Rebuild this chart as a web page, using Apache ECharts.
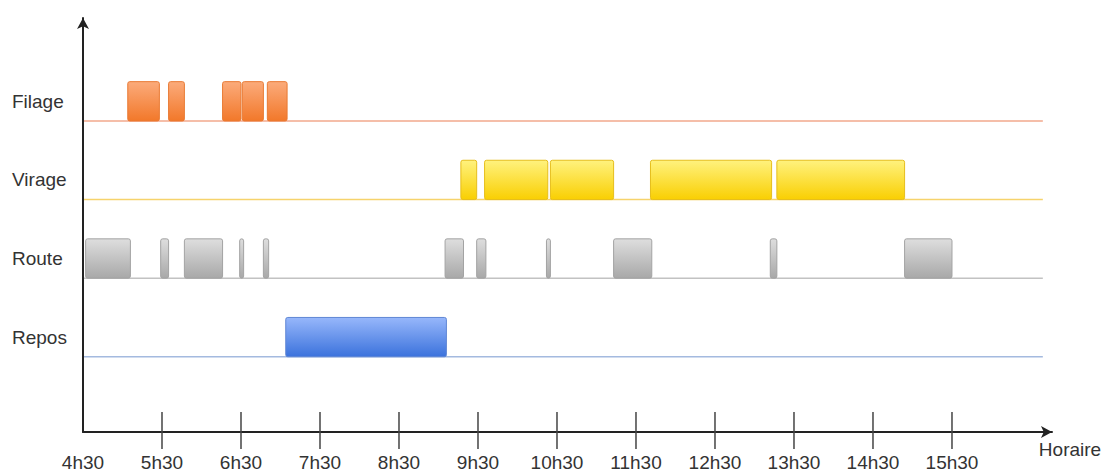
<!DOCTYPE html>
<html>
<head>
<meta charset="utf-8">
<script src="https://cdn.jsdelivr.net/npm/echarts@6/dist/echarts.min.js"></script>
<style>
  html, body { margin: 0; padding: 0; background: #ffffff; }
  #chart { width: 1105px; height: 472px; }
</style>
</head>
<body>
<div id="chart"></div>
<script>
// ---- data ----
const rows = ['Repos', 'Route', 'Virage', 'Filage']; // bottom to top
const tickLabels = ['4h30', '5h30', '6h30', '7h30', '8h30', '9h30', '10h30', '11h30', '12h30', '13h30', '14h30', '15h30'];
const filage = [['5h04', '5h28'], ['5h35', '5h47'], ['6h16', '6h30'], ['6h31', '6h47'], ['6h50', '7h05']];
const virage = [['9h17', '9h29'], ['9h35', '10h23'], ['10h25', '11h13'], ['11h41', '13h13'], ['13h17', '14h54']];
const route = [['4h32', '5h06'], ['5h29', '5h35'], ['5h47', '6h16'], ['6h29', '6h32'], ['6h47', '6h51'],
               ['9h05', '9h19'], ['9h29', '9h36'], ['10h22', '10h25'], ['11h13', '11h42'], ['13h12', '13h17'], ['14h54', '15h30']];
const repos = [['7h04', '9h06']];
const lineEnd = '16h39';
const axisName = 'Horaire';

// ---- styles ----
const styles = {
  Filage: { top: '#fbab7b', bottom: '#f2782a', border: '#e97a33', line: '#f2a88c' },
  Virage: { top: '#fff27e', bottom: '#f9cf02', border: '#e6be1c', line: '#f6d36c' },
  Route:  { top: '#dedede', bottom: '#a8a8a8', border: '#a3a3a3', line: '#c2c2c2' },
  Repos:  { top: '#97b7fb', bottom: '#3b72dc', border: '#5f86d4', line: '#a4badf' }
};

const hours = t => { const p = t.split('h').map(Number); return p[0] + p[1] / 60; };
const origin = hours(tickLabels[0]);
const toAxis = t => hours(t) - origin;

const gridLeft = 83, gridRight = 53;
const xMax = 12.266;
const tickUp = 20, tickDown = 17;

const seriesData = { Filage: filage, Virage: virage, Route: route, Repos: repos };

function barSeries(name) {
  const idx = rows.indexOf(name);
  const st = styles[name];
  return {
    type: 'custom',
    name: name,
    xAxisIndex: 2,
    yAxisIndex: 1,
    z: 3,
    encode: { x: [0, 1], y: 2 },
    data: seriesData[name].map(d => [toAxis(d[0]), toAxis(d[1]), idx]),
    renderItem: function (params, api) {
      const y = api.value(2);
      const p0 = api.coord([api.value(0), y]);
      const p1 = api.coord([api.value(1), y]);
      const h = api.size([0, 1])[1] * 0.5;
      return {
        type: 'rect',
        shape: { x: p0[0], y: p0[1] - h / 2, width: p1[0] - p0[0], height: h, r: 2 },
        style: {
          fill: new echarts.graphic.LinearGradient(0, 0, 0, 1, [
            { offset: 0, color: st.top }, { offset: 1, color: st.bottom }
          ]),
          stroke: st.border,
          lineWidth: 1
        }
      };
    }
  };
}

const baselineSeries = {
  type: 'custom',
  xAxisIndex: 2,
  yAxisIndex: 1,
  z: 2,
  encode: { x: [0, 1], y: 2 },
  data: rows.map((r, i) => [0, toAxis(lineEnd), i]),
  renderItem: function (params, api) {
    const y = api.value(2);
    const p0 = api.coord([api.value(0), y]);
    const p1 = api.coord([api.value(1), y]);
    const h = api.size([0, 1])[1] * 0.5;
    const yy = p0[1] + h / 2;
    return {
      type: 'line',
      shape: { x1: p0[0], y1: yy, x2: p1[0], y2: yy },
      style: { stroke: styles[rows[y]].line, lineWidth: 1.5 }
    };
  }
};

const tickStyle = { stroke: '#444', lineWidth: 1.5 };
// axis tick marks crossing the time axis, placed through the axis scale
const tickSeries = {
  type: 'custom',
  xAxisIndex: 0,
  yAxisIndex: 0,
  z: 20,
  clip: false,
  silent: true,
  encode: { x: 0, y: 1 },
  data: tickLabels.map((t, i) => [i, 0]).filter(d => d[0] > 0),
  renderItem: function (params, api) {
    const p = api.coord([api.value(0), 0]);
    return {
      type: 'line',
      shape: { x1: p[0], y1: p[1] - tickUp, x2: p[0], y2: p[1] + tickDown },
      style: tickStyle
    };
  }
};

const labelValues = tickLabels.map((t, i) => i);
const textColor = '#333';
const fontFamily = '"Liberation Sans", Arial, sans-serif';
const fontSize = 19;

const chart = echarts.init(document.getElementById('chart'), null, { renderer: 'svg' });
chart.setOption({
  animation: false,
  backgroundColor: '#ffffff',
  textStyle: { fontFamily: fontFamily },
  grid: [
    { left: gridLeft, right: gridRight, top: 18, bottom: 40 },
    { left: gridLeft, right: gridRight, top: 62, bottom: 95.6 }
  ],
  xAxis: [
    {
      gridIndex: 0, type: 'value', position: 'bottom', min: 0, max: xMax,
      name: axisName, nameLocation: 'end', nameGap: 18,
      nameTextStyle: { color: textColor, fontSize: fontSize, fontFamily: fontFamily, align: 'center', verticalAlign: 'top', padding: [8, 0, 0, 0] },
      axisLine: { show: true, symbol: ['none', 'arrow'], symbolSize: [9, 11], lineStyle: { color: '#222', width: 2 } },
      axisTick: { show: false },
      axisLabel: { show: true, customValues: labelValues, margin: 21, fontSize: fontSize, color: textColor, fontFamily: fontFamily,
                   formatter: v => tickLabels[Math.round(v)] || '' },
      splitLine: { show: false },
      z: 5
    },
    {
      gridIndex: 0, type: 'value', min: 0, max: xMax, show: false,
      splitLine: { show: false }
    },
    {
      gridIndex: 1, type: 'value', min: 0, max: xMax, show: false,
      splitLine: { show: false }
    }
  ],
  yAxis: [
    {
      gridIndex: 0, type: 'value', min: 0, max: 1,
      axisLine: { show: true, symbol: ['none', 'arrow'], symbolSize: [9, 11], lineStyle: { color: '#222', width: 2 } },
      axisTick: { show: false },
      axisLabel: { show: false },
      splitLine: { show: false },
      z: 5
    },
    {
      gridIndex: 1, type: 'category', data: rows,
      axisLine: { show: false },
      axisTick: { show: false },
      axisLabel: { show: true, align: 'left', margin: 71, fontSize: fontSize, color: textColor, fontFamily: fontFamily },
      splitLine: { show: false }
    }
  ],
  series: [baselineSeries, tickSeries].concat(['Filage', 'Virage', 'Route', 'Repos'].map(barSeries))
});
</script>
</body>
</html>
